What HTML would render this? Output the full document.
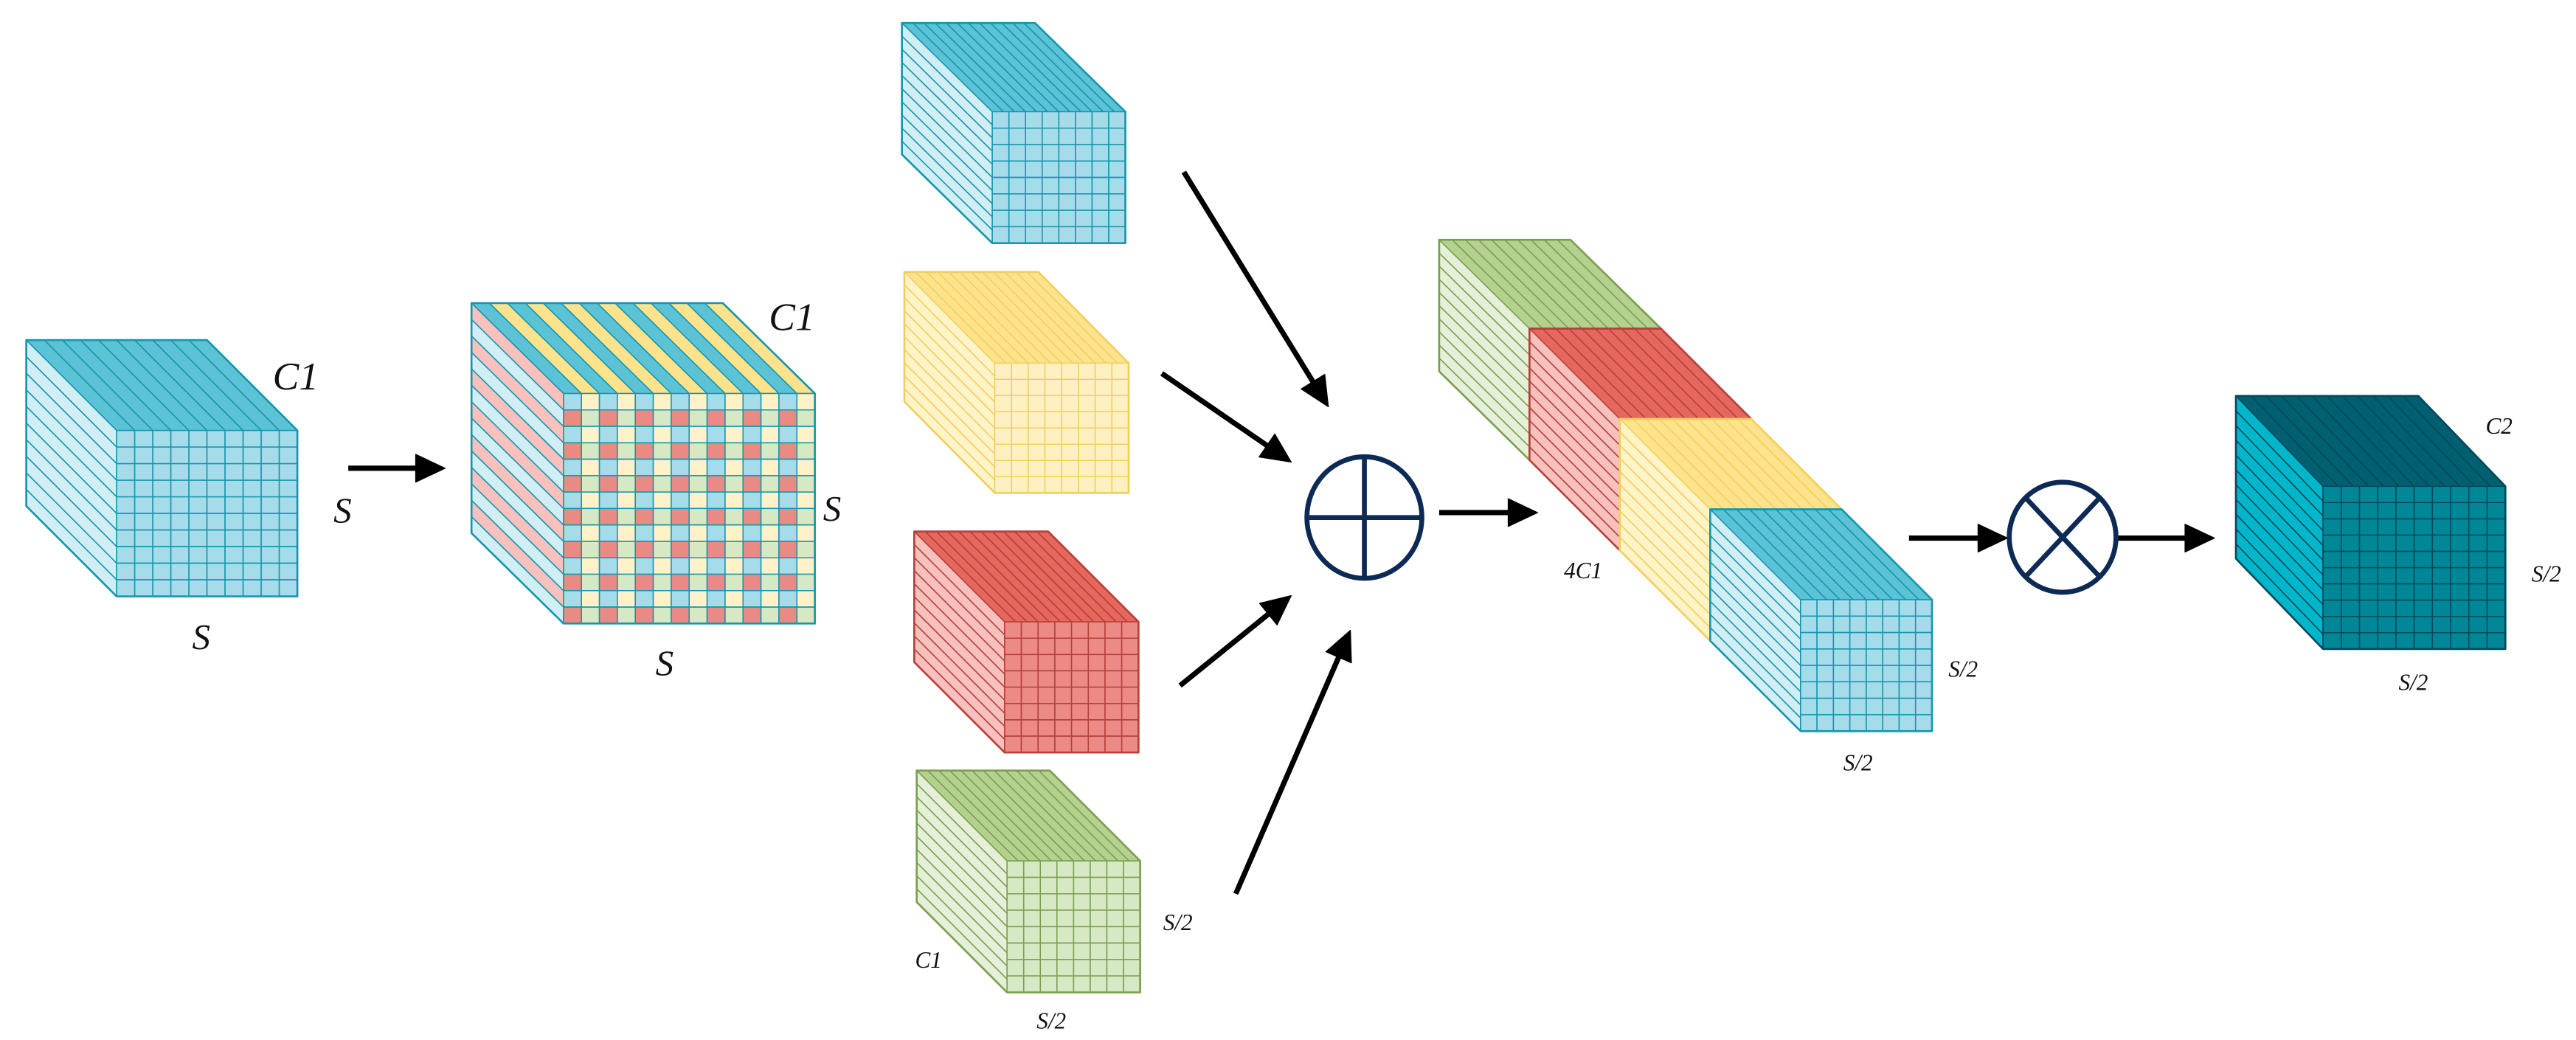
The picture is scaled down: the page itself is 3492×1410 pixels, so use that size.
<!DOCTYPE html>
<html><head><meta charset="utf-8"><style>
html,body{margin:0;padding:0;background:#fff;width:3492px;height:1410px;overflow:hidden}
svg{display:block}
text{font-family:"Liberation Serif","Times New Roman",serif;font-style:italic;fill:#111}
</style></head><body>
<svg id="s" width="3492" height="1410" viewBox="0 0 1568 633" preserveAspectRatio="none" xmlns="http://www.w3.org/2000/svg">
<g id="g"></g>
<g fill="none" stroke="#0d2a55" stroke-width="3">
<ellipse cx="830.5" cy="315" rx="35" ry="37"/>
<line x1="795.5" y1="315" x2="865.5" y2="315"/><line x1="830.5" y1="278" x2="830.5" y2="352"/>
<ellipse cx="1255.5" cy="327" rx="32.5" ry="33.5"/>
<line x1="1233" y1="303" x2="1278" y2="351"/><line x1="1278" y1="303" x2="1233" y2="351"/>
</g>
<g font-family="Liberation Serif, serif" font-style="italic">
<text x="166" y="237" font-size="24">C1</text>
<text x="203" y="318" font-size="22">S</text>
<text x="117" y="395" font-size="22">S</text>
<text x="468" y="201" font-size="24">C1</text>
<text x="501" y="317" font-size="22">S</text>
<text x="399" y="411" font-size="22">S</text>
<text x="708" y="566" font-size="14">S/2</text>
<text x="557" y="589" font-size="14">C1</text>
<text x="631" y="626" font-size="14">S/2</text>
<text x="952" y="352" font-size="14">4C1</text>
<text x="1186" y="412" font-size="14">S/2</text>
<text x="1122" y="469" font-size="14">S/2</text>
<text x="1513" y="264" font-size="14">C2</text>
<text x="1541" y="354" font-size="14">S/2</text>
<text x="1460" y="420" font-size="14">S/2</text>
</g>
</svg>
<script>
var g=document.getElementById('g'),h='';
function P(pts,f,s,w){h+='<polygon points="'+pts.map(function(p){return p[0].toFixed(2)+','+p[1].toFixed(2)}).join(' ')+'" fill="'+f+'" stroke="'+s+'" stroke-width="'+(w||0.7)+'" stroke-linejoin="round"/>';}
function cube(bx,by,W,H,dx,dy,nt,nl,nc,nr,c){
 for(var i=0;i<nt;i++){var a=bx+W*i/nt,b=bx+W*(i+1)/nt;
  P([[a,by],[b,by],[b+dx,by+dy],[a+dx,by+dy]],c.top(i),c.ln);}
 for(var i=0;i<nl;i++){var a=by+H*i/nl,b=by+H*(i+1)/nl;
  P([[bx,a],[bx+dx,a+dy],[bx+dx,b+dy],[bx,b]],c.left(i),c.ln);}
 var fx=bx+dx,fy=by+dy;
 for(var r=0;r<nr;r++)for(var k=0;k<nc;k++){var x0=fx+W*k/nc,y0=fy+H*r/nr;
  P([[x0,y0],[x0+W/nc,y0],[x0+W/nc,y0+H/nr],[x0,y0+H/nr]],c.front(r,k),c.ln);}
 P([[bx,by],[bx+W,by],[bx+W+dx,by+dy],[bx+W+dx,by+dy+H],[bx+dx,by+dy+H],[bx,by+H]],'none',c.ln,1.2);
}
function C(t,l,f,ln){return{top:function(){return t},left:function(){return l},front:function(){return f},ln:ln};}
var cy=C('#5cc3d7','#d2eef5','#a6dcea','#1596ad');
var ye=C('#ffe38c','#fff3c8','#fff0c2','#f2cf5c');
var re=C('#e5675e','#f8c1be','#ec8b86','#b6403a');
var gr=C('#b5d190','#e6efd9','#d7e8c4','#7aa04e');
cube(16,207,110,101,55,55,10,10,10,10,cy);
cube(287,184.5,153,140,56,55,14,14,14,14,{
 top:function(i){return i%2?'#ffe38c':'#5cc3d7'},
 left:function(i){return i%2?'#d2eef5':'#f8c1be'},
 front:function(r,k){return r%2? (k%2?'#d7e8c4':'#e98a84') : (k%2?'#fff2c8':'#a6dcea')},
 ln:'#1596ad'});
cube(549,14,81,80,55,54,12,10,8,8,cy);
cube(550.5,165.5,81.5,79,55,55.5,12,10,8,8,ye);
cube(556.5,323.5,81.5,79.5,55,55,12,10,8,8,re);
cube(558,469,81,80,55,55,12,10,8,8,gr);
cube(876,146,80,80,55,54,10,10,8,8,gr);
cube(931,200,80,80,55,55,10,10,8,8,re);
cube(986,255,80,80,55,55,10,10,8,8,ye);
cube(1041,310,80,80,55,55,10,10,8,8,cy);
cube(1361,241,111,99,53,55,12,11,10,10,C('#005f70','#00b6ca','#008797','#004a58'));
function arrow(x1,y1,x2,y2){var dx=x2-x1,dy=y2-y1,L=Math.sqrt(dx*dx+dy*dy),ux=dx/L,uy=dy/L,hl=18,hw=8.5;
 var bx=x2-ux*hl,by=y2-uy*hl;
 h+='<line x1="'+x1+'" y1="'+y1+'" x2="'+bx+'" y2="'+by+'" stroke="#000" stroke-width="3.2"/>';
 P([[x2,y2],[bx-uy*hw,by+ux*hw],[bx+uy*hw,by-ux*hw]],'#000','#000',0.5);}
arrow(212,285,271,285);
arrow(720.6,104.7,808.6,247.6);
arrow(707.2,227.3,786,281.3);
arrow(718.3,417.3,786,362.5);
arrow(752.2,544,822,383.6);
arrow(876,312,936,312);
arrow(1162,327.5,1222,327.5);
arrow(1289,327.5,1348,327.5);
g.innerHTML=h;
</script>
</body></html>
